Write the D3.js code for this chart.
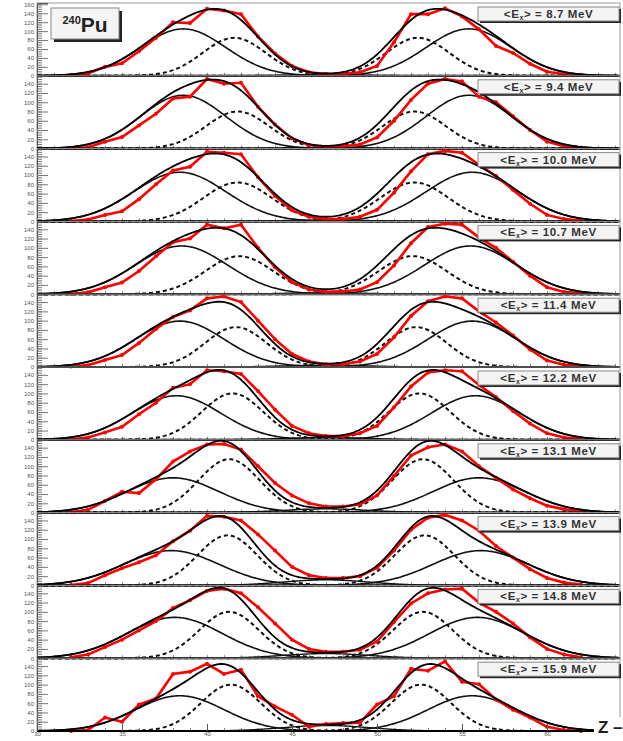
<!DOCTYPE html>
<html>
<head>
<meta charset="utf-8">
<script src="https://cdn.jsdelivr.net/npm/d3@7"></script>
<style>
  body { margin: 0; background: #fff; }
  text { font-family: "Liberation Sans", Arial, sans-serif; }
</style>
</head>
<body>
<div id="chart"></div>
<script>
// charge number of the fragments
const zValues = d3.range(32, 63);
const energies = ["8.7", "9.4", "10.0", "10.7", "11.4", "12.2", "13.1", "13.9", "14.8", "15.9"];

// measured yields per panel (Z = 32..62)
const yield87  = [1,5,20,28,55,85,120,118,150,146,138,88,50,22,8,4,4,8,22,75,138,138,151,133,104,67,51,27,9,4,2];
const yield94  = [1,3,15,25,50,75,108,112,150,140,142,90,52,22,8,4,5,9,24,60,105,140,150,145,112,100,70,40,15,5,2];
const yield100 = [1,4,14,22,48,80,110,118,150,148,145,95,55,24,10,5,5,10,25,62,108,145,152,148,122,98,68,38,14,5,2];
const yield107 = [1,4,15,25,50,82,112,120,150,142,150,100,58,26,10,5,6,10,26,62,110,145,152,150,122,100,70,40,15,5,2];
const yield114 = [1,4,15,26,52,82,108,122,148,152,140,100,60,28,12,6,6,12,28,64,110,142,152,148,120,96,68,38,14,5,2];
const yield122 = [1,5,16,28,55,80,112,120,150,148,142,105,65,30,14,8,8,14,30,70,115,145,150,148,118,92,62,35,14,5,2];
const yield131 = [1,6,25,45,42,72,110,132,147,148,136,100,64,37,20,13,13,18,37,79,123,141,147,132,100,75,50,31,15,7,3];
const yield139 = [1,5,22,37,50,65,95,118,150,148,140,110,75,40,22,16,16,20,38,75,120,146,152,140,118,85,60,35,16,6,2];
const yield148 = [2,8,24,40,60,80,108,125,145,150,140,110,75,40,20,14,14,18,36,78,118,140,148,150,120,100,75,45,20,8,2];
const yield159 = [0,2,29,20,57,70,123,128,145,123,132,75,53,35,9,15,17,18,57,75,134,130,150,106,101,68,46,29,9,2,0];
const yields = [yield87, yield94, yield100, yield107, yield114, yield122, yield131, yield139, yield148, yield159];

// gaussian fit components (light side; heavy side mirrored around Z = 47)
const solidMu  = [38.6, 38.6, 38.4, 38.5, 38.4, 38.2, 38.0, 37.9, 38.1, 38.4];
const solidSig = [2.5, 2.5, 2.7, 2.7, 2.6, 2.6, 2.7, 2.8, 2.8, 2.6];
const solidAmp = [105, 115, 106, 104, 99, 95, 75, 75, 88, 76];
const dashMu   = [41.6, 41.8, 41.8, 41.9, 41.7, 41.5, 41.3, 41.2, 41.3, 41.4];
const dashSig  = [1.85, 1.85, 2.0, 2.0, 1.8, 1.8, 1.8, 1.75, 1.75, 1.75];
const dashAmp  = [85, 80, 84, 82, 86, 100, 115, 108, 100, 100];
const symAmp   = [2, 2, 3, 3, 4, 5, 8, 12, 10, 12];
const symSig = 2.5, zMid = 47;

const yMax = [163, 157, 157, 157, 157, 157, 157, 157, 157, 157];
const yTicks = [0, 20, 40, 60, 80, 100, 120, 140, 160];
const xTicks = [30, 35, 40, 45, 50, 55, 60];

const W = 623, H = 741;
const left = 37, right = 620, top0 = 3, step = 72.8;

const svg = d3.select("#chart").append("svg")
  .attr("width", W).attr("height", H);

const x = d3.scaleLinear().domain([30, 30 + (right - left) / 17]).range([left, right]);
const fine = d3.range(30, 64.3, 0.1);

const gauss = (z, mu, s, a) => a * Math.exp(-((z - mu) ** 2) / (2 * s * s));

energies.forEach((e, i) => {
  const y0 = top0 + i * step, y1 = y0 + step;
  const y = d3.scaleLinear().domain([0, yMax[i]]).range([y1, y0]);
  const g = svg.append("g");

  g.append("rect").attr("x", left).attr("y", y0).attr("width", right - left).attr("height", step)
    .attr("fill", "none").attr("stroke", "#999").attr("stroke-width", 1);

  // y axis, ticks pointing inward
  const minor = d3.range(0, yMax[i], 5);
  g.append("g").attr("transform", `translate(${left},0)`)
    .call(d3.axisLeft(y).tickValues(minor).tickSize(-5).tickFormat(""))
    .call(a => a.select(".domain").remove())
    .selectAll("line").attr("stroke", "#777");
  g.append("g").attr("transform", `translate(${left},0)`)
    .call(d3.axisLeft(y).tickValues(yTicks.filter(t => t < yMax[i])).tickSize(-11).tickPadding(3))
    .call(a => a.select(".domain").attr("stroke", "#555"))
    .call(a => a.selectAll("line").attr("stroke", "#777"))
    .call(a => a.selectAll("text").attr("font-size", 6).attr("fill", "#555"));

  // x ticks on each panel
  const xa = g.append("g").attr("transform", `translate(0,${y1})`)
    .call(d3.axisBottom(x).tickValues(d3.range(30, 65)).tickSize(-3).tickFormat(""));
  xa.select(".domain").remove();
  xa.selectAll("line").attr("stroke", "#888");

  const line = d3.line().x(d => x(d[0])).y(d => y(d[1]));
  const comp = (mu, s, a) => fine.map(z => [z, gauss(z, mu, s, a)]);

  const mus = [solidMu[i], zMid * 2 - solidMu[i]];
  const mud = [dashMu[i], zMid * 2 - dashMu[i]];

  // symmetric component
  g.append("path").attr("d", line(comp(zMid, symSig, symAmp[i])))
    .attr("fill", "none").attr("stroke", "#111").attr("stroke-width", 1.4);
  mus.forEach(m => g.append("path").attr("d", line(comp(m, solidSig[i], solidAmp[i])))
    .attr("fill", "none").attr("stroke", "#111").attr("stroke-width", 1.6));
  mud.forEach(m => g.append("path").attr("d", line(comp(m, dashSig[i], dashAmp[i])))
    .attr("fill", "none").attr("stroke", "#111").attr("stroke-width", 2)
    .attr("stroke-dasharray", "4,3"));

  // measured yields
  const pts = zValues.map((z, k) => [z, yields[i][k]]);
  g.append("path").attr("d", line(pts))
    .attr("fill", "none").attr("stroke", "#f00").attr("stroke-width", 2.6);
  g.selectAll("circle.pt").data(pts).join("circle")
    .attr("cx", d => x(d[0])).attr("cy", d => y(d[1])).attr("r", 2).attr("fill", "#f00");

  // total fit
  const total = fine.map(z => [z,
    gauss(z, zMid, symSig, symAmp[i]) +
    mus.reduce((s, m) => s + gauss(z, m, solidSig[i], solidAmp[i]), 0) +
    mud.reduce((s, m) => s + gauss(z, m, dashSig[i], dashAmp[i]), 0)]);
  g.append("path").attr("d", line(total))
    .attr("fill", "none").attr("stroke", "#000").attr("stroke-width", 1.8);

  // baseline
  g.append("line").attr("x1", left).attr("x2", right).attr("y1", y1).attr("y2", y1)
    .attr("stroke", "#000").attr("stroke-width", 2);

  // energy label box
  const bx = 478, by = y0 + 4, bw = 141, bh = 14;
  g.append("rect").attr("x", bx + 2).attr("y", by + 2).attr("width", bw).attr("height", bh).attr("fill", "#222");
  g.append("rect").attr("x", bx).attr("y", by).attr("width", bw).attr("height", bh)
    .attr("fill", "#f4f4f4").attr("stroke", "#888").attr("stroke-width", 1);
  const t = g.append("text").attr("x", bx + bw / 2).attr("y", by + 11).attr("text-anchor", "middle")
    .attr("font-size", 11.5).attr("font-weight", "bold").attr("letter-spacing", 0.6).attr("fill", "#333");
  t.append("tspan").text("<E");
  t.append("tspan").attr("font-size", 7).attr("dy", 2).text("x");
  t.append("tspan").attr("dy", -2).text(`> = ${e} MeV`);
});

// bottom axis labels
const yb = top0 + 10 * step;
const xb = svg.append("g").attr("transform", `translate(0,${yb})`)
  .call(d3.axisBottom(x).tickValues(xTicks).tickSize(-7).tickPadding(1));
xb.select(".domain").remove();
xb.selectAll("line").attr("stroke", "#555");
xb.selectAll("text").attr("font-size", 6).attr("fill", "#555");

// Z label
svg.append("rect").attr("x", 594).attr("y", yb - 14).attr("width", 29).attr("height", 20).attr("fill", "#fff");
svg.append("text").attr("x", 598).attr("y", yb + 2).attr("font-size", 17).attr("font-weight", "bold")
  .attr("fill", "#222").text("Z –");

// nucleus box
svg.append("rect").attr("x", 54).attr("y", 11).attr("width", 68).attr("height", 31).attr("fill", "#222");
svg.append("rect").attr("x", 51).attr("y", 8).attr("width", 68).attr("height", 31)
  .attr("fill", "#f4f4f4").attr("stroke", "#888");
const pu = svg.append("text").attr("x", 85).attr("y", 32).attr("text-anchor", "middle")
  .attr("font-weight", "bold").attr("fill", "#222");
pu.append("tspan").attr("font-size", 11).attr("dy", -8).text("240");
pu.append("tspan").attr("font-size", 21).attr("dy", 8).text("Pu");
</script>
</body>
</html>
